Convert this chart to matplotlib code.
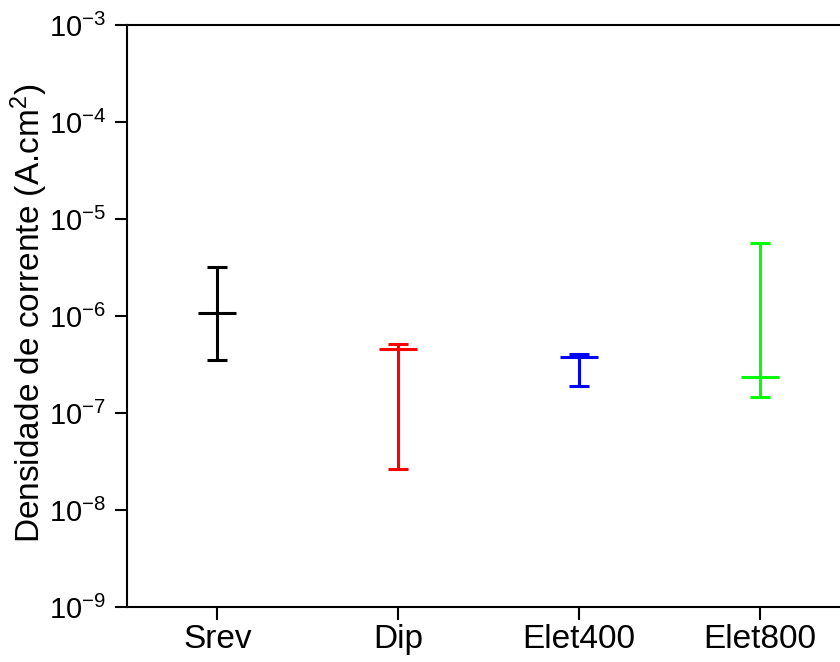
import numpy as np
import matplotlib
matplotlib.use('Agg')
import matplotlib.pyplot as plt

plt.rcParams['font.family'] = ['Liberation Sans', 'DejaVu Sans']
plt.rcParams['mathtext.fontset'] = 'custom'
plt.rcParams['mathtext.rm'] = 'Liberation Sans'
plt.rcParams['mathtext.it'] = 'Liberation Sans:italic'

# amostras e valores (A.cm2)
amostras = ['Srev', 'Dip', 'Elet400', 'Elet800']
valor_medio = [1.07e-6, 4.55e-7, 3.8e-7, 2.37e-7]
valor_min = [3.52e-7, 2.62e-8, 1.91e-7, 1.46e-7]
valor_max = [3.18e-6, 5.14e-7, 4.03e-7, 5.6e-6]
cores = ['black', 'red', 'blue', '#00ff00']

fig = plt.figure(figsize=(8.4, 6.62), dpi=100)
ax = fig.add_axes([0.1512, 0.0831, 0.8607, 0.8792])

x = np.arange(1, len(amostras) + 1)
for i in range(len(amostras)):
    m = valor_medio[i]
    err = [[m - valor_min[i]], [valor_max[i] - m]]
    ax.errorbar(x[i], m, yerr=err, fmt='_', color=cores[i], ecolor=cores[i],
                markersize=27, markeredgewidth=2.2, elinewidth=2.2,
                capsize=7.2, capthick=2.2)

ax.set_yscale('log')
ax.set_ylim(1e-9, 1e-3)
ax.set_xlim(0.5, 4.5)
ax.set_xticks(x)
ax.set_xticklabels(amostras)
ax.yaxis.set_minor_locator(matplotlib.ticker.NullLocator())

for s in ['left', 'bottom', 'top', 'right']:
    ax.spines[s].set_linewidth(1.5)

ax.tick_params(axis='both', direction='out', length=9, width=1.5)
ax.tick_params(axis='y', labelsize=21, pad=6)
ax.tick_params(axis='x', labelsize=24, pad=3)
ax.set_ylabel('Densidade de corrente (A.cm$^2$)', fontsize=24)
ax.yaxis.set_label_coords(-0.106, 0.505)

fig.savefig('out.png', dpi=100)
